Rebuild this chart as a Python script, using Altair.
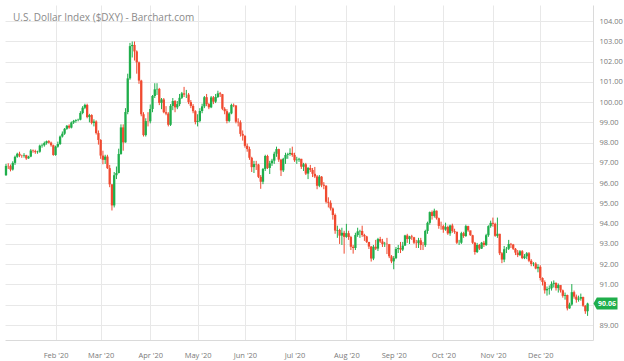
import json
import altair as alt
import pandas as pd

# ---------------- data (U.S. Dollar Index, daily bars 2020) ----------------
month_names = ["Jan '20", "Feb '20", "Mar '20", "Apr '20", "May '20", "Jun '20",
               "Jul '20", "Aug '20", "Sep '20", "Oct '20", "Nov '20", "Dec '20"]
month_bar_counts = [22, 20, 22, 21, 21, 22, 23, 21, 22, 22, 21, 22]

first_open = 96.39

closes = [
    # Jan
    96.85, 96.84, 96.67, 97.00, 97.30, 97.45, 97.36, 97.35, 97.38, 97.22, 97.31, 97.61, 97.58, 97.53, 97.55, 97.85, 97.87, 97.98, 98.07, 98.00, 97.87, 97.39,
    # Feb
    97.80, 97.93, 98.30, 98.44, 98.68, 98.83, 98.74, 98.99, 99.07, 99.11, 99.13, 99.46, 99.72, 99.86, 99.26, 99.36, 98.97, 99.04, 98.47, 98.13,
    # Mar
    97.36, 97.15, 97.31, 96.74, 95.94, 94.90, 96.39, 96.50, 97.44, 98.75, 98.01, 99.51, 101.17, 102.76, 102.82, 102.50, 101.96, 101.06, 99.40, 98.37, 99.06, 99.05,
    # Apr
    99.66, 100.30, 100.63, 100.65, 99.96, 100.13, 99.50, 99.43, 98.88, 99.81, 100.05, 99.74, 99.90, 100.21, 100.43, 100.37, 100.37, 100.00, 99.81, 99.55, 99.02,
    # May
    99.07, 99.56, 99.79, 100.24, 99.90, 99.74, 100.23, 100.02, 100.25, 100.43, 100.39, 99.67, 99.55, 99.07, 99.44, 99.86, 99.83, 99.03, 99.00, 98.43, 98.34,
    # Jun
    97.84, 97.68, 97.25, 96.79, 96.94, 96.92, 96.31, 96.07, 96.70, 97.34, 96.75, 96.98, 97.11, 97.45, 97.68, 97.16, 96.63, 97.20, 97.39, 97.43, 97.49, 97.39,
    # Jul
    97.13, 97.16, 97.20, 96.81, 96.93, 96.47, 96.75, 96.65, 96.46, 96.33, 95.87, 96.32, 95.92, 95.87, 95.08, 95.03, 94.75, 94.43, 93.66, 93.69, 93.41, 93.55, 93.35,
    # Aug
    93.53, 93.34, 92.86, 92.80, 93.44, 93.62, 93.64, 93.44, 93.37, 93.10, 92.87, 92.28, 92.86, 92.77, 93.24, 93.12, 92.99, 93.01, 92.99, 92.39, 92.14,
    # Sep
    92.30, 92.75, 92.80, 92.72, 92.92, 93.42, 93.24, 93.37, 93.33, 93.06, 93.04, 93.18, 92.95, 92.94, 93.64, 94.04, 94.57, 94.38, 94.64, 94.27, 93.89, 93.88,
    # Oct
    93.71, 93.84, 93.52, 93.91, 93.64, 93.60, 93.06, 93.06, 93.53, 93.39, 93.88, 93.67, 93.43, 93.06, 92.60, 92.95, 92.77, 93.06, 92.95, 93.43, 93.88, 94.04,
    # Nov
    93.99, 93.40, 93.50, 92.54, 92.23, 92.74, 92.76, 93.00, 92.97, 92.76, 92.57, 92.45, 92.64, 92.30, 92.39, 92.54, 92.17, 92.01, 92.03, 91.79, 91.87,
    # Dec
    91.32, 91.12, 90.71, 90.78, 90.81, 91.03, 91.08, 90.82, 90.97, 90.71, 90.44, 90.48, 89.82, 90.01, 90.62, 90.40, 90.25, 90.30, 90.38, 89.95, 89.68, 90.06,
]

highs = [
    # Jan
    96.95, 96.98, 96.92, 97.08, 97.36, 97.50, 97.55, 97.40, 97.48, 97.40, 97.35, 97.68, 97.66, 97.65, 97.60, 97.90, 97.95, 98.05, 98.10, 98.12, 98.05, 97.90,
    # Feb
    97.85, 98.05, 98.35, 98.55, 98.72, 98.87, 98.90, 99.04, 99.12, 99.15, 99.18, 99.55, 99.80, 99.92, 99.92, 99.42, 99.40, 99.15, 99.10, 98.60,
    # Mar
    98.17, 97.60, 97.40, 97.40, 96.90, 95.95, 96.55, 96.82, 97.70, 98.90, 98.90, 99.70, 101.40, 102.92, 102.99, 102.99, 102.55, 102.00, 101.10, 99.50, 99.20, 99.50,
    # Apr
    99.88, 100.35, 100.93, 100.93, 100.70, 100.20, 100.20, 99.80, 99.50, 99.90, 100.20, 100.10, 100.05, 100.40, 100.50, 100.75, 100.60, 100.45, 100.10, 99.90, 99.60,
    # May
    99.40, 99.70, 99.92, 100.30, 100.40, 99.95, 100.30, 100.30, 100.40, 100.56, 100.50, 100.40, 99.75, 99.65, 99.50, 99.92, 99.93, 99.85, 99.20, 99.10, 98.60,
    # Jun
    98.35, 97.95, 97.80, 97.30, 97.10, 97.10, 96.95, 96.40, 96.75, 97.40, 97.40, 97.10, 97.20, 97.55, 97.80, 97.70, 97.20, 97.25, 97.50, 97.50, 97.72, 97.80,
    # Jul
    97.50, 97.30, 97.25, 97.20, 97.00, 97.00, 96.80, 96.90, 96.75, 96.80, 96.40, 96.40, 96.35, 96.05, 95.90, 95.30, 95.15, 94.80, 94.50, 93.90, 93.75, 93.80, 93.65,
    # Aug
    93.99, 93.65, 93.40, 92.95, 93.55, 93.80, 93.70, 93.90, 93.50, 93.40, 93.10, 92.90, 92.95, 93.20, 93.30, 93.35, 93.25, 93.10, 93.30, 93.00, 92.45,
    # Sep
    92.40, 92.85, 92.95, 93.10, 93.10, 93.45, 93.50, 93.40, 93.45, 93.35, 93.20, 93.30, 93.30, 93.10, 93.70, 94.10, 94.60, 94.65, 94.74, 94.65, 94.30, 94.10,
    # Oct
    93.95, 94.05, 93.90, 93.95, 94.00, 93.75, 93.60, 93.20, 93.60, 93.60, 93.95, 93.90, 93.65, 93.45, 93.10, 93.05, 93.00, 93.10, 93.15, 93.50, 93.92, 94.15,
    # Nov
    94.30, 94.05, 94.30, 93.50, 92.60, 92.90, 92.85, 93.20, 93.05, 93.00, 92.80, 92.70, 92.70, 92.70, 92.50, 92.60, 92.60, 92.25, 92.10, 92.10, 92.00,
    # Dec
    91.95, 91.35, 91.20, 90.90, 90.95, 91.15, 91.20, 91.10, 91.05, 90.95, 90.75, 90.60, 90.50, 90.10, 91.02, 90.70, 90.50, 90.45, 90.55, 90.40, 89.98, 90.10,
]

lows = [
    # Jan
    96.36, 96.70, 96.58, 96.62, 96.90, 97.25, 97.28, 97.25, 97.26, 97.15, 97.20, 97.28, 97.50, 97.45, 97.45, 97.50, 97.75, 97.80, 97.90, 97.95, 97.80, 97.35,
    # Feb
    97.35, 97.75, 97.88, 98.25, 98.38, 98.63, 98.68, 98.70, 98.92, 98.98, 99.05, 99.10, 99.40, 99.65, 99.20, 99.00, 98.90, 98.80, 98.40, 97.90,
    # Mar
    97.20, 96.93, 96.95, 96.70, 95.80, 94.65, 94.80, 96.20, 96.48, 97.40, 97.60, 98.00, 99.40, 101.10, 102.20, 102.05, 101.40, 100.90, 99.30, 98.30, 98.30, 98.80,
    # Apr
    98.95, 99.50, 100.20, 100.35, 99.85, 99.65, 99.45, 99.35, 98.80, 98.82, 99.60, 99.50, 99.65, 99.80, 100.15, 100.25, 100.20, 99.90, 99.70, 99.45, 98.90,
    # May
    98.80, 99.00, 99.45, 99.70, 99.80, 99.65, 99.70, 99.90, 99.95, 100.20, 100.25, 99.60, 99.40, 98.95, 99.00, 99.40, 99.75, 98.95, 98.80, 98.30, 98.10,
    # Jun
    97.75, 97.55, 97.15, 96.55, 96.50, 96.65, 96.25, 95.72, 95.95, 96.60, 96.70, 96.45, 96.85, 96.95, 97.30, 97.05, 96.35, 96.55, 96.95, 97.20, 97.35, 97.30,
    # Jul
    97.05, 96.95, 97.05, 96.70, 96.60, 96.40, 96.20, 96.55, 96.30, 96.25, 95.70, 95.80, 95.80, 95.70, 95.00, 94.80, 94.65, 94.20, 93.50, 93.30, 93.00, 92.95, 92.52,
    # Aug
    93.30, 93.20, 92.70, 92.52, 92.70, 93.35, 93.30, 93.35, 93.15, 93.05, 92.75, 92.13, 92.20, 92.70, 92.65, 93.05, 92.85, 92.85, 92.50, 92.30, 92.05,
    # Sep
    91.75, 92.25, 92.55, 92.55, 92.65, 92.90, 93.05, 93.00, 93.20, 93.00, 92.80, 92.80, 92.70, 92.70, 92.85, 93.50, 93.95, 94.20, 94.30, 94.20, 93.75, 93.70,
    # Oct
    93.55, 93.65, 93.45, 93.40, 93.55, 93.50, 93.00, 92.95, 93.00, 93.30, 93.35, 93.60, 93.40, 93.00, 92.47, 92.55, 92.70, 92.75, 92.85, 92.90, 93.35, 93.80,
    # Nov
    93.85, 93.35, 93.30, 92.45, 92.05, 92.10, 92.55, 92.70, 92.80, 92.70, 92.45, 92.35, 92.40, 92.25, 92.25, 92.25, 92.10, 91.90, 91.90, 91.75, 91.60,
    # Dec
    91.20, 90.95, 90.55, 90.45, 90.50, 90.70, 90.85, 90.70, 90.60, 90.60, 90.35, 90.25, 89.72, 89.80, 89.95, 90.30, 90.10, 90.15, 90.20, 89.90, 89.55, 89.45,
]

y_ticks = [89, 90, 91, 92, 93, 94, 95, 96, 97, 98, 99, 100, 101, 102, 103, 104]
hidden_label_value = 90   # this axis label is covered by the last-price tag
last_price = 90.06
title_text = "U.S. Dollar Index ($DXY) - Barchart.com"

# ---------------- build table ----------------
opens = [first_open] + closes[:-1]
df = pd.DataFrame({
    "i": list(range(len(closes))),
    "open": opens,
    "high": highs,
    "low": lows,
    "close": closes,
})

month_starts = []
acc = 0
for n in month_bar_counts:
    month_starts.append(acc)
    acc += n
tick_idx = month_starts[1:]
tick_labels = month_names[1:]

GREEN = "#1fae4b"
RED = "#f04a30"
GRID = "#e8e8e8"
AXIS = "#dadada"
LABEL = "#7a7a7a"
FONT = "Open Sans"

x_label_expr = f"{json.dumps(tick_labels)}[indexof({json.dumps(tick_idx)}, datum.value)]"
y_label_expr = f"datum.value == {hidden_label_value} ? '' : format(datum.value, '.2f')"

x_scale = alt.Scale(domain=[-0.44, 260.4], nice=False, zero=False)
y_scale = alt.Scale(domain=[88.26, 104.79], nice=False, zero=False)

x_axis = alt.Axis(values=tick_idx, labelExpr=x_label_expr, title=None,
                  grid=True, gridColor=GRID, ticks=False,
                  domain=True, domainColor=AXIS, labelOverlap=False,
                  labelFont=FONT, labelFontSize=7.5, labelColor=LABEL,
                  labelPadding=11)
y_axis = alt.Axis(orient="right", values=y_ticks, labelExpr=y_label_expr, title=None,
                  grid=True, gridColor=GRID, ticks=False, labelOverlap=False,
                  domain=True, domainColor=AXIS,
                  labelFont=FONT, labelFontSize=7.5, labelColor=LABEL,
                  labelPadding=6)

color = alt.condition("datum.close >= datum.open", alt.value(GREEN), alt.value(RED))

base = alt.Chart(df)

wicks = base.mark_rule(strokeWidth=1).encode(
    x=alt.X("i:Q", scale=x_scale, axis=x_axis),
    y=alt.Y("low:Q", scale=y_scale, axis=y_axis),
    y2="high:Q",
    color=color,
)

bodies = base.mark_rule(strokeWidth=2.3, strokeCap="butt").encode(
    x=alt.X("i:Q", scale=x_scale, axis=x_axis),
    y=alt.Y("open:Q", scale=y_scale, axis=y_axis),
    y2="close:Q",
    color=color,
)

title_df = pd.DataFrame({"t": [title_text]})
title = alt.Chart(title_df).mark_text(
    align="left", baseline="middle", font=FONT, fontSize=10, color="#8a8a8a"
).encode(x=alt.value(8), y=alt.value(13), text="t:N")

tag_df = pd.DataFrame({"price": [last_price], "label": [f"{last_price:.2f}"]})
tag_shape = "M -1 0 L -0.72 -0.5 L 1 -0.5 L 1 0.5 L -0.72 0.5 Z"
tag = alt.Chart(tag_df).mark_point(
    shape=tag_shape, filled=True, size=576, color="#1fae4b", opacity=1, strokeWidth=0
).encode(x=alt.value(600.5), y=alt.Y("price:Q", scale=y_scale, axis=y_axis))
tag_text = alt.Chart(tag_df).mark_text(
    align="center", baseline="middle", font=FONT, fontSize=7, fontWeight="bold", color="white"
).encode(x=alt.value(602), y=alt.Y("price:Q", scale=y_scale, axis=y_axis), text="label:N")

chart = alt.layer(wicks, bodies, title, tag, tag_text).properties(
    width=588, height=335,
    padding={"left": 5, "top": 5, "right": 31, "bottom": 21},
    autosize=alt.AutoSizeParams(type="none"),
    background="white",
).configure_view(strokeWidth=0)

chart.save("out.html", embed_options={"renderer": "svg", "actions": False})
